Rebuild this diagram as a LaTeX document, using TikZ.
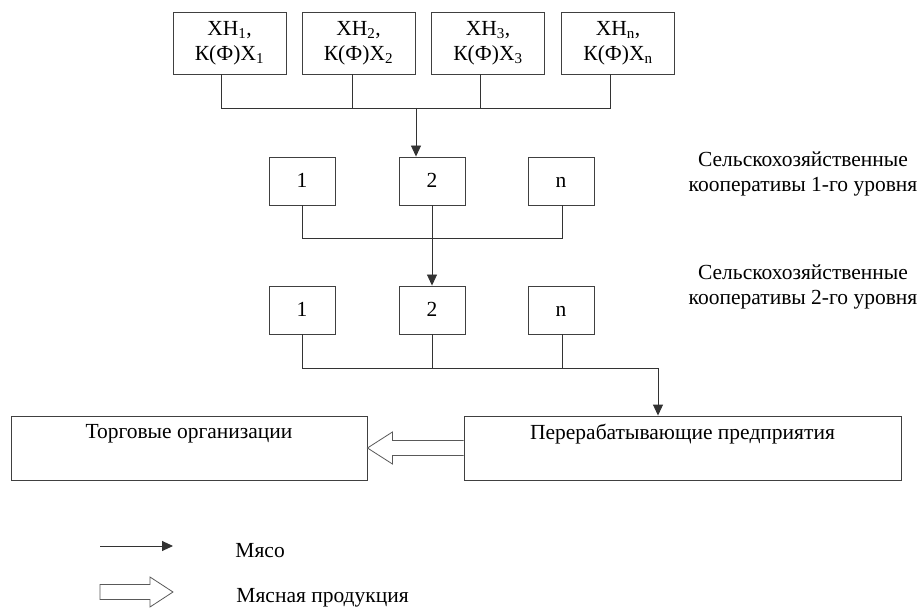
\documentclass[tikz,border=0pt]{standalone}
\usepackage{fontspec}
\setmainfont{Liberation Serif}
\usetikzlibrary{arrows.meta,calc}
\begin{document}
\begin{tikzpicture}[x=1pt,y=-1pt,
  font=\fontsize{21.5}{25}\selectfont,
  line width=0.9pt,
  box/.style={draw=black!75,fill=white,inner sep=0pt,align=center},
  topbox/.style={box,minimum width=113pt,minimum height=62pt},
  smallbox/.style={box,minimum width=66pt,minimum height=48pt,text height=14pt,text depth=0pt},
  bigbox/.style={box,minimum height=64pt},
  conn/.style={draw=black!80},
  arr/.style={conn,-{Triangle[length=11pt,width=10pt]}},
  hollow/.style={draw=black!65,fill=white,line width=0.8pt,line join=miter},
  lbl/.style={align=center,inner sep=0pt}]
\useasboundingbox (0,0) rectangle (923,609);

% top row
\node[topbox] (t1) at (229.5,43) {ХН\textsubscript{1},\\К(Ф)Х\textsubscript{1}};
\node[topbox] (t2) at (358.5,43) {ХН\textsubscript{2},\\К(Ф)Х\textsubscript{2}};
\node[topbox] (t3) at (488,43) {ХН\textsubscript{3},\\К(Ф)Х\textsubscript{3}};
\node[topbox] (t4) at (618,43) {ХН\textsubscript{n},\\К(Ф)Х\textsubscript{n}};

% level 1
\node[smallbox] (a1) at (302,181) {1};
\node[smallbox] (a2) at (432,181) {2};
\node[smallbox] (a3) at (561,181) {n};
% level 2
\node[smallbox] (b1) at (302,310) {1};
\node[smallbox] (b2) at (432,310) {2};
\node[smallbox] (b3) at (561,310) {n};

% bottom
\node[bigbox,minimum width=356pt] (L) at (189,448) {Торговые организации\\\strut};
\node[bigbox,minimum width=437pt] (R) at (682.5,448) {Перерабатывающие предприятия\\\strut};

% side labels
\node[lbl] (s1) at (803,174) {Сельскохозяйственные\\кооперативы 1-го уровня};
\node[lbl] (s2) at (803,287) {Сельскохозяйственные\\кооперативы 2-го уровня};

% connectors top -> level 1
\coordinate (j1) at (416,108);
\draw[conn] ([xshift=-8.5pt]t1.south) |- (j1);
\draw[conn] ([xshift=-8pt]t4.south) |- (j1);
\draw[conn] ([xshift=-6.5pt]t2.south) -- ([xshift=-6.5pt]t2.south |- j1);
\draw[conn] ([xshift=-8pt]t3.south) -- ([xshift=-8pt]t3.south |- j1);
\draw[arr] (j1) -- (j1 |- a2.north);

% level 1 -> level 2
\coordinate (j2) at (432,238);
\draw[conn] (a1.south) |- (j2);
\draw[conn] ([xshift=1pt]a3.south) |- (j2);
\draw[arr] (a2.south) -- (b2.north);

% level 2 -> processing
\coordinate (j3) at (658,368);
\draw[conn] (b1.south) |- (j3);
\draw[conn] (b2.south) -- (b2.south |- j3);
\draw[conn] ([xshift=1pt]b3.south) -- ([xshift=1pt]b3.south |- j3);
\draw[arr] (j3) -- (j3 |- R.north);

% hollow arrow R -> L
\draw[hollow] (R.west |- 0,440.5) -- ($(L.east |- 0,440.5)+(25,0)$) -- ($(L.east)+(25,-16)$)
  -- (L.east) -- ($(L.east)+(25,16)$) -- ($(L.east |- 0,455.5)+(25,0)$) -- (R.west |- 0,455.5);

% legend
\coordinate (m0) at (100,546);
\coordinate (m1) at (173,546);
\draw[arr] (m0) -- (m1);
\node[anchor=base west,inner sep=0pt] (mt) at (235,557) {Мясо};
\coordinate (h0) at (100,592);
\coordinate (h1) at (173,592);
\draw[hollow] ($(h0)+(0,-7.5)$) -- ($(h1)+(-23,-7.5)$) -- ($(h1)+(-23,-15)$) -- (h1)
  -- ($(h1)+(-23,15)$) -- ($(h1)+(-23,7.5)$) -- ($(h0)+(0,7.5)$) -- cycle;
\node[anchor=base west,inner sep=0pt] (pt) at (236,602) {Мясная продукция};
\end{tikzpicture}
\end{document}
